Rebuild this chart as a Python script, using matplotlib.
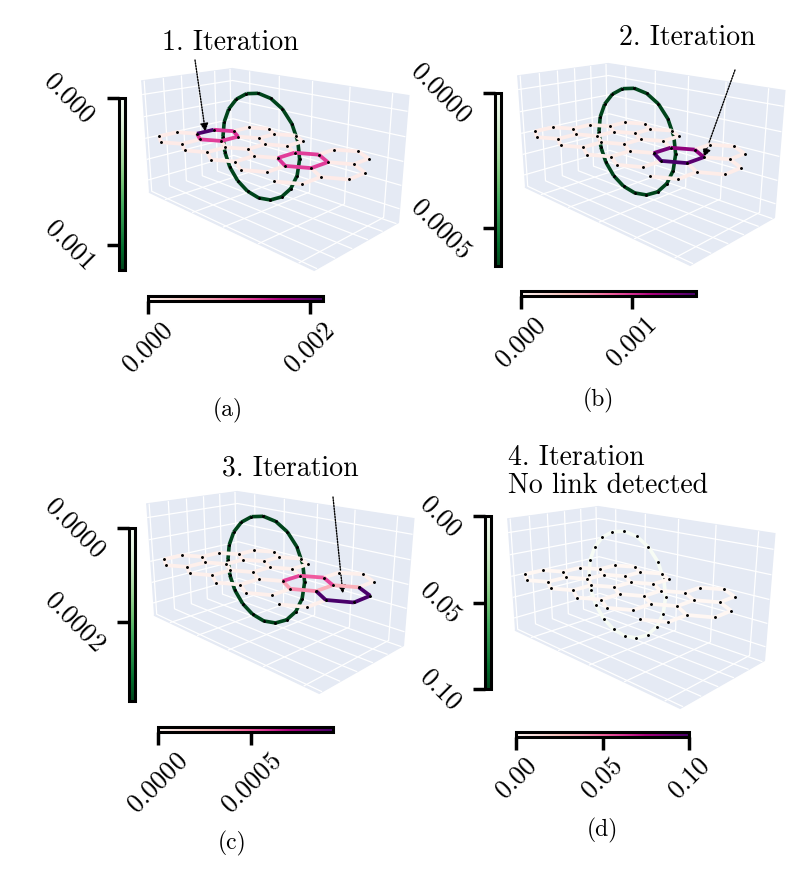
import numpy as np
import matplotlib
matplotlib.use("Agg")
import matplotlib.pyplot as plt
from matplotlib.ticker import MaxNLocator
from matplotlib.colors import Normalize
from matplotlib.cm import ScalarMappable
from mpl_toolkits.mplot3d.art3d import Line3DCollection
from mpl_toolkits.mplot3d import proj3d

plt.rcParams['font.family'] = ['cmr10', 'DejaVu Serif']
plt.rcParams['axes.formatter.use_mathtext'] = True
plt.rcParams['mathtext.fontset'] = 'cm'
plt.rcParams['ytick.alignment'] = 'center'

# ---------------- data ----------------
# hexagonal sheet: full cells given as (row, col)
sheet_cells = [(2, 2), (2, 3), (2, 5),
               (1, 1), (1, 2), (1, 3), (1, 4), (1, 5),
               (0, 1), (0, 2), (0, 3), (0, 4)]
# partial cells: (row, col, edge indices kept)
partial_cells = [(0, 5, [4, 5])]
side = 1.0                 # hexagon side length
ring_row = 1               # row pierced by the ring
ring_cols = (1, 4)         # hexagons pierced by the ring
ring_inset = (0.4, 0.15)   # where the ring crosses them (offset from centres, inwards)
ring_n = 20                # number of ring nodes
pad_lo = (0.15, 0.15)      # x, y padding of the box (low side)
pad_hi = (0.3, 0.15)       # x, y padding of the box (high side)
z_pad = 1.12               # z half-range / ring radius

titles = ['1. Iteration', '2. Iteration', '3. Iteration', '4. Iteration\nNo link detected']
captions = ['(a)', '(b)', '(c)', '(d)']

# colour-bar upper limits
sheet_vmax = [0.00216, 0.00158, 0.00094, 0.10]
ring_vmax = [0.00117, 0.00064, 0.00037, 0.10]
# value on every ring edge
ring_value = [0.00117, 0.00064, 0.00037, 0.0]
# baseline value on sheet edges
sheet_base = [0.00014, 0.00009, 0.00004, 0.0]
# notable hexagons: (row, col, values of its 6 edges)
hex_values = [
    [(1, 1, [0.00135, 0.00135, 0.00216, 0.0013, 0.0013, 0.0013]),
     (1, 4, [0.0013, 0.0013, 0.0013, 0.00135, 0.0013, 0.0013])],
    [(1, 4, [0.0013, 0.0013, 0.0014, 0.00158, 0.00158, 0.0015])],
    [(1, 4, [0.00055, 0.0005, 0.00055, 0.00035, 0.0004, 0.0003]),
     (1, 5, [0.00094, 0.0003, 0.0003, 0.00094, 0.00094, 0.00094])],
    [],
]
# annotated spot: (row, col, angle in degrees, fraction of side)
arrow_target = [(1, 1, 180, 0.87), (1, 4, 30, 1.0), (1, 5, 0, 0.0), None]

# ---------------- geometry ----------------
SQ3 = np.sqrt(3.0)


def hex_center(r, c):
    return np.array([c * SQ3 * side + (r % 2) * SQ3 / 2 * side, r * 1.5 * side])


def hex_vertices(r, c):
    cx, cy = hex_center(r, c)
    ang = np.deg2rad(30 + 60 * np.arange(6))
    return [(round(cx + side * np.cos(a), 6), round(cy + side * np.sin(a), 6)) for a in ang]


verts = {}
edges = []
edge_index = {}
hex_edges = {}


def vid(v):
    if v not in verts:
        verts[v] = len(verts)
    return verts[v]


def add_edge(a, b):
    key = frozenset((a, b))
    if key not in edge_index:
        edge_index[key] = len(edges)
        edges.append((a, b))
    return edge_index[key]


for (r, c) in sheet_cells:
    ids = [vid(v) for v in hex_vertices(r, c)]
    hex_edges[(r, c)] = [add_edge(ids[k], ids[(k + 1) % 6]) for k in range(6)]
for (r, c, keep) in partial_cells:
    vs = hex_vertices(r, c)
    for k in keep:
        add_edge(vid(vs[k]), vid(vs[(k + 1) % 6]))

V = np.zeros((len(verts), 2))
for v, i in verts.items():
    V[i] = v

x_left = hex_center(ring_row, ring_cols[0])[0] + ring_inset[0] * side
x_right = hex_center(ring_row, ring_cols[1])[0] - ring_inset[1] * side
ring_y = hex_center(ring_row, ring_cols[0])[1]
ring_xc = (x_left + x_right) / 2
ring_R = (x_right - x_left) / 2
th = 2 * np.pi * np.arange(ring_n) / ring_n
ring_pts = np.column_stack([ring_xc + ring_R * np.cos(th),
                            np.full(ring_n, ring_y),
                            ring_R * np.sin(th)])
ring_segs = [[ring_pts[i], ring_pts[(i + 1) % ring_n]] for i in range(ring_n)]
sheet_segs = [[(V[a][0], V[a][1], 0.0), (V[b][0], V[b][1], 0.0)] for a, b in edges]

xlim = (V[:, 0].min() - pad_lo[0], V[:, 0].max() + pad_hi[0])
ylim = (V[:, 1].min() - pad_lo[1], V[:, 1].max() + pad_hi[1])
zlim = (-z_pad * ring_R, z_pad * ring_R)


def px(x0, y0, w, h):
    return [x0 / 810, 1 - (y0 + h) / 880, w / 810, h / 880]


fig = plt.figure(figsize=(8.1, 8.8), dpi=100)

ax_rects = [px(96, 8, 330, 290), px(472, 3, 330, 290), px(101, 431, 330, 290), px(462, 446, 330, 290)]
vcb_rects = [px(119, 98, 6, 172), px(495, 93, 6, 173), px(129, 528, 6, 173), px(485, 516, 6, 173)]
hcb_rects = [px(148, 296, 175, 5), px(521, 291, 175, 5), px(158, 727, 175, 5), px(516, 732, 173, 5)]
title_pos = [(230, 43, 'center'), (687, 38, 'center'), (290, 468, 'center'), (508, 472, 'left')]
arrow_start = [(195, 60), (735, 70), (333, 497), None]
caption_pos = [(228, 410), (598, 400), (232, 843), (602, 830)]

pane_col = (0.898, 0.918, 0.957, 1.0)
scmap = plt.get_cmap('RdPu')
rcmap = plt.get_cmap('Greens')
nice = [1, 2, 2.5, 5, 10]

for i in range(4):
    ax = fig.add_axes(ax_rects[i], projection='3d')
    ax.set_facecolor('none')
    vals = np.full(len(edges), sheet_base[i])
    for (r, c, ev) in hex_values[i]:
        for k, e in enumerate(hex_edges[(r, c)]):
            vals[e] = max(vals[e], ev[k]) if vals[e] > sheet_base[i] else ev[k]
    snorm = Normalize(0, sheet_vmax[i])
    rnorm = Normalize(0, ring_vmax[i])
    order = np.argsort(vals)
    lc = Line3DCollection([sheet_segs[j] for j in order],
                          colors=scmap(snorm(vals[order])), linewidths=2.7)
    ax.add_collection3d(lc)
    rvals = np.full(ring_n, ring_value[i])
    rc = Line3DCollection(ring_segs, colors=rcmap(rnorm(rvals)), linewidths=2.6)
    ax.add_collection3d(rc)
    ax.scatter(V[:, 0], V[:, 1], np.zeros(len(V)), s=1.2, c='k', depthshade=False)
    ax.scatter(ring_pts[:, 0], ring_pts[:, 1], ring_pts[:, 2], s=1.2, c='k', depthshade=False)

    ax.set_xlim(*xlim)
    ax.set_ylim(*ylim)
    ax.set_zlim(*zlim)
    ax.set_box_aspect((xlim[1] - xlim[0], ylim[1] - ylim[0], zlim[1] - zlim[0]), zoom=0.99)
    ax.view_init(elev=17, azim=-45)
    ax.set_proj_type('persp', focal_length=0.33)
    for axis in (ax.xaxis, ax.yaxis, ax.zaxis):
        axis.set_pane_color(pane_col)
        axis.pane.set_edgecolor(pane_col)
        axis.line.set_color((1, 1, 1, 0))
        axis._axinfo['grid']['color'] = 'white'
        axis._axinfo['grid']['linewidth'] = 0.9
        axis._axinfo['tick']['inward_factor'] = 0.0
        axis._axinfo['tick']['outward_factor'] = 0.0
        axis.set_ticklabels([])

    # colour bars
    vcax = fig.add_axes(vcb_rects[i])
    cb = fig.colorbar(ScalarMappable(norm=rnorm, cmap=rcmap), cax=vcax, orientation='vertical')
    cb.locator = MaxNLocator(nbins=2, steps=nice)
    vcax.invert_yaxis()
    vcax.yaxis.set_ticks_position('left')
    vcax.tick_params(length=9, width=2.5, labelsize=19, labelrotation=-45, pad=5)
    cb.outline.set_linewidth(2.2)

    hcax = fig.add_axes(hcb_rects[i])
    cb2 = fig.colorbar(ScalarMappable(norm=snorm, cmap=scmap), cax=hcax, orientation='horizontal')
    cb2.locator = MaxNLocator(nbins=2, steps=nice)
    hcax.tick_params(length=9, width=2.5, labelsize=19, labelrotation=45, pad=3)
    cb2.outline.set_linewidth(2.2)

    tx, ty, ha = title_pos[i]
    fig.text(tx / 810, 1 - ty / 880, titles[i], ha=ha, va='center', fontsize=20, linespacing=1.05)
    cx, cy = caption_pos[i]
    fig.text(cx / 810, 1 - cy / 880, captions[i], ha='center', va='center', fontsize=17)

    if arrow_target[i] is not None:
        r, c, ang, frac = arrow_target[i]
        p = hex_center(r, c) + frac * side * np.array([np.cos(np.deg2rad(ang)), np.sin(np.deg2rad(ang))])
        x2, y2, _ = proj3d.proj_transform(p[0], p[1], 0.0, ax.get_proj())
        sx, sy = arrow_start[i]
        ax.annotate('', xy=(x2, y2), xycoords='data',
                    xytext=(sx / 810, 1 - sy / 880), textcoords='figure fraction',
                    arrowprops=dict(arrowstyle='-|>', linestyle=(0, (1, 1)), lw=1.0,
                                    color='k', shrinkA=0, shrinkB=0, mutation_scale=12),
                    annotation_clip=False)

fig.savefig('out.png', dpi=100)
